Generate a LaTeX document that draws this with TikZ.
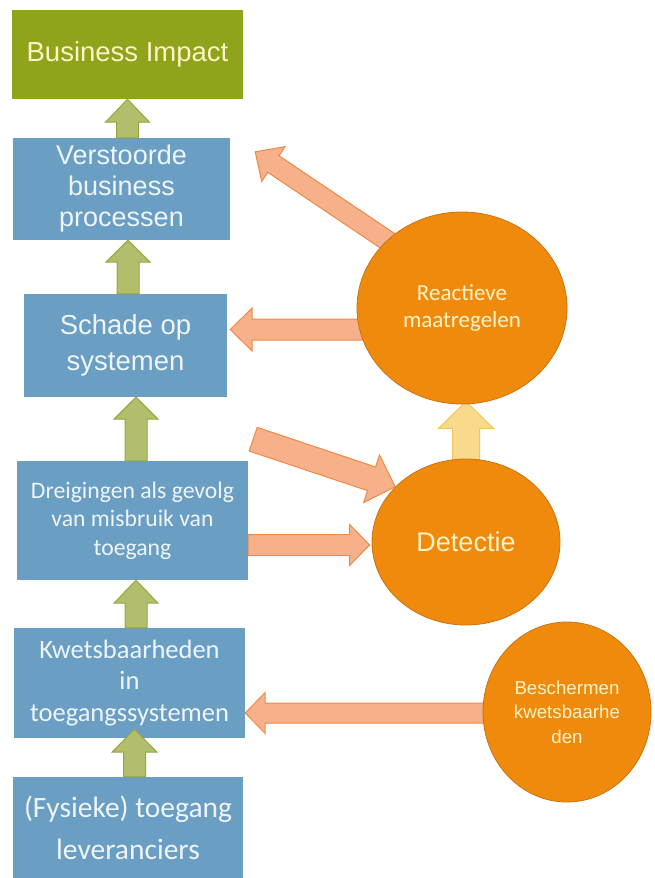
\documentclass[tikz,border=0pt]{standalone}
\usepackage{fontspec}
\setmainfont{Liberation Sans}
\newfontfamily\calibri{Carlito}
\usepackage{tikz}
\usetikzlibrary{calc,shapes.geometric}
\definecolor{blauwBlok}{HTML}{6B9EC3}
\definecolor{groenImpact}{HTML}{8FA31B}
\definecolor{oranjeCirkel}{HTML}{EF8A0C}
\definecolor{oranjeRand}{HTML}{C97414}
\definecolor{zalmPijl}{HTML}{F6B08A}
\definecolor{zalmRand}{HTML}{EE8A45}
\definecolor{geelPijl}{HTML}{F9D98C}
\definecolor{geelRand}{HTML}{F3C55E}
\definecolor{groenPijl}{HTML}{B3BE6C}
\definecolor{groenRand}{HTML}{97A63E}
\definecolor{tekstLicht}{HTML}{EEF5F9}
\definecolor{tekstGeel}{HTML}{FDF3C4}
\pgfdeclarelayer{fond}
\pgfsetlayers{fond,main}
\tikzset{
  blok/.style={
    rectangle, fill=blauwBlok, text=tekstLicht,
    align=center, inner sep=0pt},
  blokGroen/.style={blok, fill=groenImpact, text=tekstGeel},
  cirkel/.style={
    ellipse, fill=oranjeCirkel, draw=oranjeRand, line width=0.8pt,
    text=tekstGeel, align=center, inner sep=0pt},
  pijlGroen/.style={fill=groenPijl, draw=groenRand, line width=1pt},
  pijlZalm/.style={fill=zalmPijl, draw=zalmRand, line width=1pt},
  pijlGeel/.style={fill=geelPijl, draw=geelRand, line width=1pt}
}
% blokpijl: stijl, van, naar, halve schacht, halve kop, koplengte
\newcommand{\blokpijl}[6]{%
  \coordinate (kop) at ($(#3)!#6!(#2)$);
  \draw[#1] ($(#2)!#4!90:(#3)$) -- ($(kop)!#4!90:(#3)$) -- ($(kop)!#5!90:(#3)$)
    -- (#3) -- ($(kop)!#5!-90:(#3)$) -- ($(kop)!#4!-90:(#3)$)
    -- ($(#2)!#4!-90:(#3)$) -- cycle;
}

\begin{document}
\begin{tikzpicture}[x=1pt, y=-1pt]

  \begin{pgfonlayer}{fond}
    \fill[white] (0,0) rectangle (655,878);
  \end{pgfonlayer}
  \useasboundingbox (0,0) rectangle (655,878);

  % --- Linker kolom : de keten
  \node[blokGroen, minimum width=231pt, minimum height=89pt,
        font=\fontsize{27.5}{33}\selectfont] (BI) at (127.5,54.5) {Business Impact};
  \node[blok, minimum width=217pt, minimum height=102pt,
        font=\fontsize{27}{31}\selectfont] (VB) at (121.5,189) {Verstoorde\\business\\processen};
  \node[blok, minimum width=203pt, minimum height=103pt,
        font=\fontsize{27.5}{36}\selectfont] (SS) at (125.5,345.5) {Schade op\\systemen};
  \node[blok, minimum width=231pt, minimum height=119pt,
        font=\calibri\fontsize{23.7}{28.5}\selectfont] (DM) at (132.5,520.5) {Dreigingen als gevolg\\van misbruik van\\toegang};
  \node[blok, minimum width=231pt, minimum height=110pt,
        font=\calibri\fontsize{26.5}{31.5}\selectfont] (KT) at (129.5,683) {Kwetsbaarheden\\in\\toegangssystemen};
  \node[blok, minimum width=230pt, minimum height=101pt,
        font=\calibri\fontsize{29.5}{42}\selectfont] (FT) at (128,827.5) {(Fysieke) toegang\\leveranciers};

  % --- Rechter kolom : de maatregelen
  \node[cirkel, minimum width=210pt, minimum height=192pt,
        font=\calibri\fontsize{23}{27.5}\selectfont] (RM) at (462,308) {Reactieve\\maatregelen};
  \node[cirkel, minimum width=188pt, minimum height=166pt,
        font=\fontsize{27}{32}\selectfont] (DE) at (466,542) {Detectie};
  \node[cirkel, minimum width=168pt, minimum height=180pt,
        font=\fontsize{18.7}{24.5}\selectfont] (BK) at (567,712) {Beschermen\\kwetsbaarhe\\den};

  % --- Groene pijlen omhoog
  \coordinate (g1a) at (BI.south |- VB.north);
  \blokpijl{pijlGroen}{g1a}{BI.south}{11pt}{22pt}{23pt}
  \coordinate (g2a) at ([xshift=2.5pt]SS.north);
  \coordinate (g2b) at (g2a |- VB.south);
  \blokpijl{pijlGroen}{g2a}{g2b}{11pt}{22pt}{22pt}
  \coordinate (g3a) at ([xshift=3.5pt]DM.north);
  \coordinate (g3b) at (g3a |- SS.south);
  \blokpijl{pijlGroen}{g3a}{g3b}{11pt}{22pt}{22pt}
  \coordinate (g4a) at ([xshift=6.5pt]KT.north);
  \coordinate (g4b) at (g4a |- DM.south);
  \blokpijl{pijlGroen}{g4a}{g4b}{11pt}{22pt}{23pt}
  \coordinate (g5a) at ([xshift=6.5pt]FT.north);
  \coordinate (g5b) at ([yshift=9pt]g5a |- KT.south);
  \blokpijl{pijlGroen}{g5a}{g5b}{11pt}{22.5pt}{23pt}

  % --- Oranje pijlen, onder de cirkels
  \begin{pgfonlayer}{fond}
    \coordinate (o1b) at ([xshift=25pt,yshift=-14pt]VB.north east);
    \coordinate (o1a) at ($(o1b)!1.12!(RM.138)$);
    \blokpijl{pijlZalm}{o1a}{o1b}{10pt}{21pt}{22pt}
    \coordinate (o2b) at ([xshift=3pt,yshift=16pt]SS.east);
    \coordinate (o2a) at (RM.center |- o2b);
    \blokpijl{pijlZalm}{o2a}{o2b}{10.5pt}{21.5pt}{22pt}
    \coordinate (o3a) at ([xshift=26pt,yshift=-42pt]SS.south east);
    \blokpijl{pijlZalm}{o3a}{DE.142.5}{12.5pt}{25pt}{25pt}
    \coordinate (o4a) at ([yshift=-24.5pt]DM.east);
    \coordinate (o4b) at ([xshift=-2pt]DE.west |- o4a);
    \blokpijl{pijlZalm}{o4a}{o4b}{10.5pt}{20.5pt}{20pt}
    \coordinate (o5a) at ([yshift=-4pt]DE.north);
    \coordinate (o5b) at ([yshift=3pt]DE.north |- RM.south);
    \blokpijl{pijlGeel}{o5a}{o5b}{13.5pt}{27.5pt}{27pt}
    \coordinate (o6b) at ([yshift=-30pt]KT.east);
    \coordinate (o6a) at (BK.center |- o6b);
    \blokpijl{pijlZalm}{o6a}{o6b}{10pt}{20.5pt}{20pt}
  \end{pgfonlayer}

\end{tikzpicture}
\end{document}
